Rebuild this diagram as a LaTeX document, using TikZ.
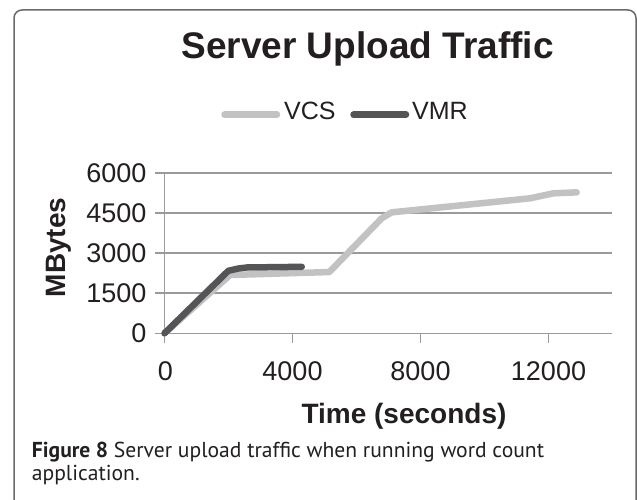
\documentclass[tikz,border=0pt]{standalone}
\usepackage{fontspec}
\setmainfont{Liberation Sans}
\newfontfamily\capfont{PT Sans}
\definecolor{txt}{HTML}{231F20}
\definecolor{gridgray}{HTML}{9A9A9C}
\definecolor{vcsgray}{HTML}{C2C2C4}
\definecolor{vmrgray}{HTML}{555557}
\definecolor{framegray}{HTML}{6A6A6C}
\begin{document}
\begin{tikzpicture}[x=1pt,y=-1pt,
  gridline/.style={draw=gridgray, line width=1.4pt},
  vcsline/.style={draw=vcsgray, line width=6.5pt, line cap=round, line join=round},
  vmrline/.style={draw=vmrgray, line width=6.5pt, line cap=round, line join=round},
  ticklab/.style={text=txt, inner sep=0pt, font=\fontsize{27}{30}\selectfont},
  axtitle/.style={text=txt, inner sep=0pt, font=\fontsize{28}{32}\selectfont\bfseries},
  legtext/.style={text=txt, inner sep=0pt, anchor=base west, font=\fontsize{25}{28}\selectfont},
  captext/.style={text=txt, inner sep=0pt, anchor=base west, font=\capfont\fontsize{21.6}{24}\selectfont}]
\useasboundingbox (0,0) rectangle (637,500);
\clip (0,0) rectangle (637,500);
\fill[white] (0,0) rectangle (637,500);
% frame
\draw[framegray, line width=1.5pt, rounded corners=8pt] (14,520) -- (14,10) -- (636,10) -- (636,520);
% title
\node[text=txt, inner sep=0pt, anchor=base, font=\fontsize{37}{40}\selectfont\bfseries] (title) at (367.5,58.3) {Server Upload Traffic};
% legend
\coordinate (l1a) at (224.5,114.7); \coordinate (l1b) at (277,114.7);
\coordinate (l2a) at (353.5,114.7); \coordinate (l2b) at (406,114.7);
\draw[vcsline] (l1a) -- (l1b);
\draw[vmrline] (l2a) -- (l2b);
\node[legtext] (lvcs) at (284,119.3) {VCS};
\node[legtext] (lvmr) at (412,119.3) {VMR};
% data area
\begin{scope}[shift={(164.5pt,-333.3pt)}, x=0.032pt, y=0.026755pt]
  \foreach \v in {1500,3000,4500,6000} \draw[gridline] (0,\v) -- (14000,\v);
  \draw[gridline] (0,0) -- (14000,0);
  \draw[gridline] (0,-374) -- (0,6000);
  \foreach \t in {4000,8000,12000} \draw[gridline] (\t,0) -- (\t,-374);
  \foreach \v in {0,1500,3000,4500,6000} \draw[gridline] (-297,\v) -- (0,\v);
  \foreach \v in {0,1500,3000,4500,6000} \node[ticklab, anchor=east] (y\v) at (-562,\v) {\v};
  \draw[vcsline] (0,0) -- (2050,2180) -- (5150,2290) -- (6788,4298) -- (7100,4522) -- (11422,5046) -- (12150,5233) -- (12881,5270);
  \draw[vmrline] (0,0) -- (1995,2336) -- (2300,2420) -- (2570,2460) -- (4290,2485);
\end{scope}
% x tick labels
\node[ticklab, anchor=base] (x0) at (165.5,380.7) {0};
\node[ticklab, anchor=base] (x4000) at (292.5,380.7) {4000};
\node[ticklab, anchor=base] (x8000) at (420.5,380.7) {8000};
\node[ticklab, anchor=base] (x12000) at (548.5,380.7) {12000};
% axis titles
\node[axtitle, anchor=base] (xt) at (404,423.3) {Time (seconds)};
\node[axtitle, anchor=base, rotate=90] (yt) at (65,247.5) {MBytes};
% caption
\node[captext] (cap1) at (31.7,457) {\textbf{Figure 8} Server upload traffic when running word count};
\node[captext] (cap2) at (31.7,480) {application.};
\end{tikzpicture}
\end{document}
